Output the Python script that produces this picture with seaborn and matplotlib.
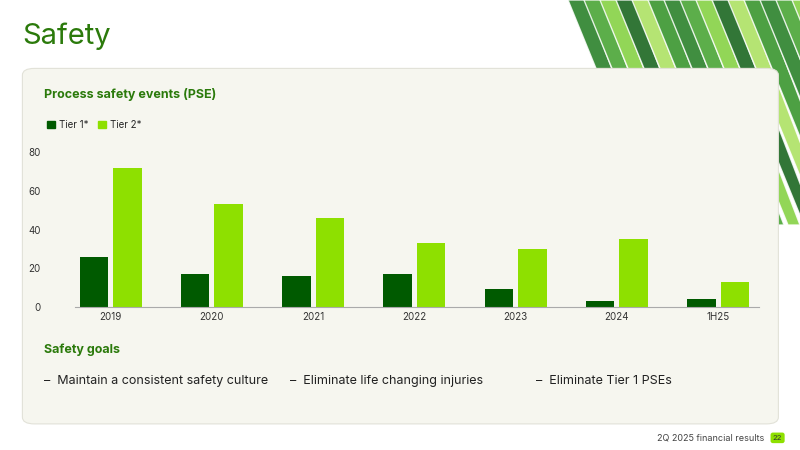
import numpy as np
import pandas as pd
import seaborn as sns
from matplotlib import pyplot as plt
from matplotlib.patches import FancyBboxPatch, Patch

years = ['2019', '2020', '2021', '2022', '2023', '2024', '1H25']
tier1 = [26, 17, 16, 17, 9, 3, 4]
tier2 = [72, 53, 46, 33, 30, 35, 13]
goals = ['Maintain a consistent safety culture', 'Eliminate life changing injuries', 'Eliminate Tier 1 PSEs']

DARK = '#005a00'
LIGHT = '#8ee000'
TITLE = '#2b7a0b'

df = pd.DataFrame({'year': years * 2, 'value': tier1 + tier2,
                   'tier': ['Tier 1*'] * 7 + ['Tier 2*'] * 7})

sns.set_style('white')
plt.rcParams['font.family'] = ['Inter', 'DejaVu Sans']

fig = plt.figure(figsize=(8, 4.5), dpi=100)
fig.patch.set_facecolor('white')

# decorative green stripes top right (fading downwards)
cols = ['#1e7a1e', '#3fa02a', '#7fcf3a', '#0e5e14', '#a8e05a', '#2e8f22']
for i in range(16):
    x0 = 0.71 + i * 0.02
    fig.patches.append(plt.Polygon([[x0, 1.0], [x0 + 0.022, 1.0], [x0 + 0.13, 0.5], [x0 + 0.115, 0.5]],
                                   closed=True, transform=fig.transFigure,
                                   facecolor=cols[i % len(cols)], zorder=-3, alpha=0.85))

# panel background
panel = FancyBboxPatch((0.028, 0.058), 0.945, 0.79, boxstyle='round,pad=0,rounding_size=0.015',
                       transform=fig.transFigure, facecolor='#f6f6ef', edgecolor='#e2e2d8', lw=0.8, zorder=-2)
fig.patches.append(panel)

fig.text(0.028, 0.92, 'Safety', fontsize=21, color=TITLE, va='center')
fig.text(0.055, 0.79, 'Process safety events (PSE)', fontsize=9, color=TITLE, weight='bold', va='center')
fig.text(0.055, 0.222, 'Safety goals', fontsize=9, color=TITLE, weight='bold', va='center')
for x, g in zip([0.055, 0.362, 0.67], goals):
    fig.text(x, 0.153, '–  ' + g, fontsize=9, color='#222222', va='center')
fig.text(0.955, 0.027, '2Q 2025 financial results', fontsize=6.5, color='#444444', ha='right', va='center')
fig.text(0.972, 0.027, '22', fontsize=5.5, color='#333333', ha='center', va='center',
         bbox=dict(boxstyle='round,pad=0.3', fc=LIGHT, ec='none'))

ax = fig.add_axes([0.075, 0.318, 0.886, 0.344])
ax.set_facecolor('none')
sns.barplot(data=df, x='year', y='value', hue='tier', palette=[DARK, LIGHT],
            width=0.66, gap=0.15, ax=ax, legend=False, saturation=1, linewidth=0)
ax.set_xlim(-0.5, 6.5)
ax.set_ylim(0, 80)
ax.set_yticks([0, 20, 40, 60, 80])
ax.set_xlabel('')
ax.set_ylabel('')
ax.tick_params(labelsize=7, colors='#333333', length=0)
ax.tick_params(axis='y', pad=14)
sns.despine(ax=ax, left=True)
ax.spines['bottom'].set_color('#aaaaaa')
ax.spines['bottom'].set_bounds(-0.35, 6.4)

fig.legend(handles=[Patch(color=DARK, label='Tier 1*'), Patch(color=LIGHT, label='Tier 2*')],
           loc='center left', bbox_to_anchor=(0.048, 0.722), ncol=2, frameon=False,
           fontsize=7, handlelength=0.8, handleheight=0.8, columnspacing=1.0, handletextpad=0.4)

fig.savefig('out.png', dpi=100)
